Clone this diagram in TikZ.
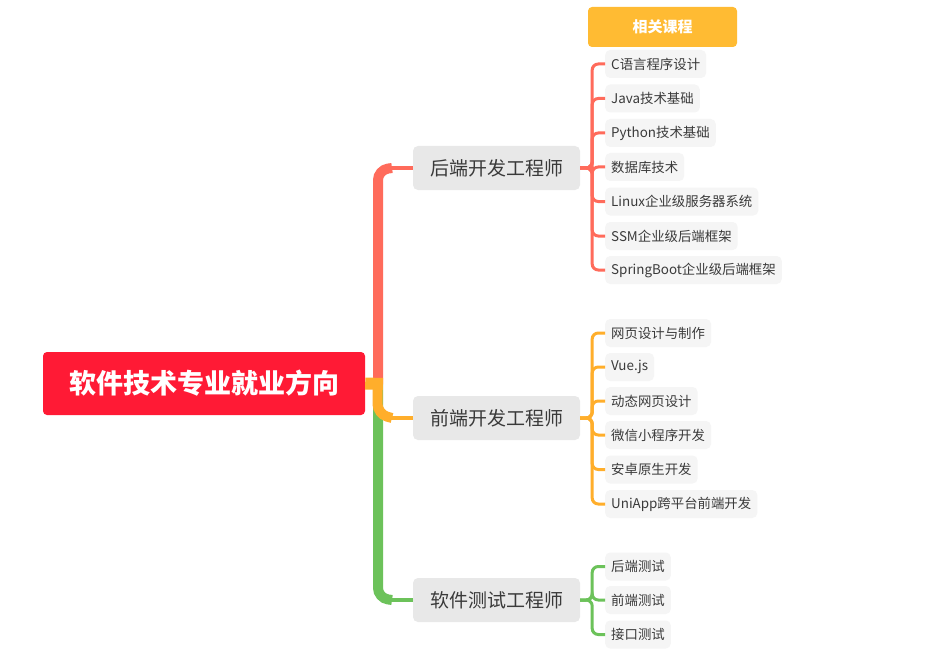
\documentclass[tikz,border=0pt]{standalone}
\usepackage{fontspec}
\setmainfont{Noto Sans CJK SC}
\begin{document}
\begin{tikzpicture}[x=1pt,y=-1pt,
  rootbox/.style={fill=rootred,rounded corners=4pt,text=white,font=\fontsize{27}{30}\selectfont\bfseries,minimum width=322pt,minimum height=63pt,inner sep=0pt},
  midbox/.style={fill=midgray,rounded corners=5pt,text=txtgray,font=\fontsize{19}{22}\selectfont,minimum width=167pt,minimum height=44pt,inner sep=0pt},
  leafbox/.style={fill=leafgray,rounded corners=5pt,text=txtgray,font=\fontsize{13.4}{16}\selectfont,minimum height=28pt,inner xsep=6pt,inner ysep=0pt,anchor=west},
  tagbox/.style={fill=tagorange,rounded corners=4pt,text=white,font=\fontsize{15}{17}\selectfont\bfseries,minimum width=149pt,minimum height=40pt,inner sep=0pt},
  trunk/.style={line width=10pt,rounded corners=10pt},
  stub/.style={line width=4.5pt,rounded corners=10pt},
  twig/.style={line width=3pt,rounded corners=6pt}
]
\definecolor{rootred}{HTML}{FF1A35}
\definecolor{midgray}{HTML}{E8E8E8}
\definecolor{leafgray}{HTML}{F5F5F5}
\definecolor{txtgray}{HTML}{3A3A3A}
\definecolor{tagorange}{HTML}{FFBB33}
\definecolor{cred}{HTML}{FF6B5B}
\definecolor{corange}{HTML}{FFAE2B}
\definecolor{cgreen}{HTML}{6CC25A}
\useasboundingbox[fill=white] (0,0) rectangle (952,655);

\node[rootbox] (root) at (204,383.5) {软件技术专业就业方向};
\node[midbox] (be) at (496.5,168) {后端开发工程师};
\node[midbox] (fe) at (496.5,418) {前端开发工程师};
\node[midbox] (te) at (496.5,600) {软件测试工程师};
\node[tagbox] (tag) at (662.5,27) {相关课程};

\coordinate (j) at (378,384);

% trunk branches
\draw[cred,trunk] (j) -- (378,170) -- (392,168);
\draw[cred,stub] (382,168) -- (be.west);
\draw[cgreen,trunk] (j) -- (378,598) -- (392,600);
\draw[cgreen,stub] (382,600) -- (te.west);
\draw[corange,line width=12pt] (root.east) -- (383,384);
\draw[corange,trunk] (377.5,378) -- (377.5,414) -- (392,418);
\draw[corange,stub] (382,418) -- (fe.west);

% backend leaves
\node[leafbox] (b1) at (605,64) {C语言程序设计};
\node[leafbox] (b2) at (605,98.5) {Java技术基础};
\node[leafbox] (b3) at (605,133) {Python技术基础};
\node[leafbox] (b4) at (605,167) {数据库技术};
\node[leafbox] (b5) at (605,201.5) {Linux企业级服务器系统};
\node[leafbox] (b6) at (605,236) {SSM企业级后端框架};
\node[leafbox] (b7) at (605,270) {SpringBoot企业级后端框架};
\foreach \n in {b1,b2,b3,b4,b5,b6,b7}
  \draw[cred,twig] (be.east) -- ([xshift=12pt]be.east) |- (\n.west);

% frontend leaves
\node[leafbox] (f1) at (605,333) {网页设计与制作};
\node[leafbox] (f2) at (605,367) {Vue.js};
\node[leafbox] (f3) at (605,401) {动态网页设计};
\node[leafbox] (f4) at (605,435) {微信小程序开发};
\node[leafbox] (f5) at (605,469.5) {安卓原生开发};
\node[leafbox] (f6) at (605,504) {UniApp跨平台前端开发};
\foreach \n in {f1,f2,f3,f4,f5,f6}
  \draw[corange,twig] (fe.east) -- ([xshift=12pt]fe.east) |- (\n.west);

% test leaves
\node[leafbox] (t1) at (605,566.5) {后端测试};
\node[leafbox] (t2) at (605,600) {前端测试};
\node[leafbox] (t3) at (605,634.5) {接口测试};
\foreach \n in {t1,t2,t3}
  \draw[cgreen,twig] (te.east) -- ([xshift=12pt]te.east) |- (\n.west);
\end{tikzpicture}
\end{document}
